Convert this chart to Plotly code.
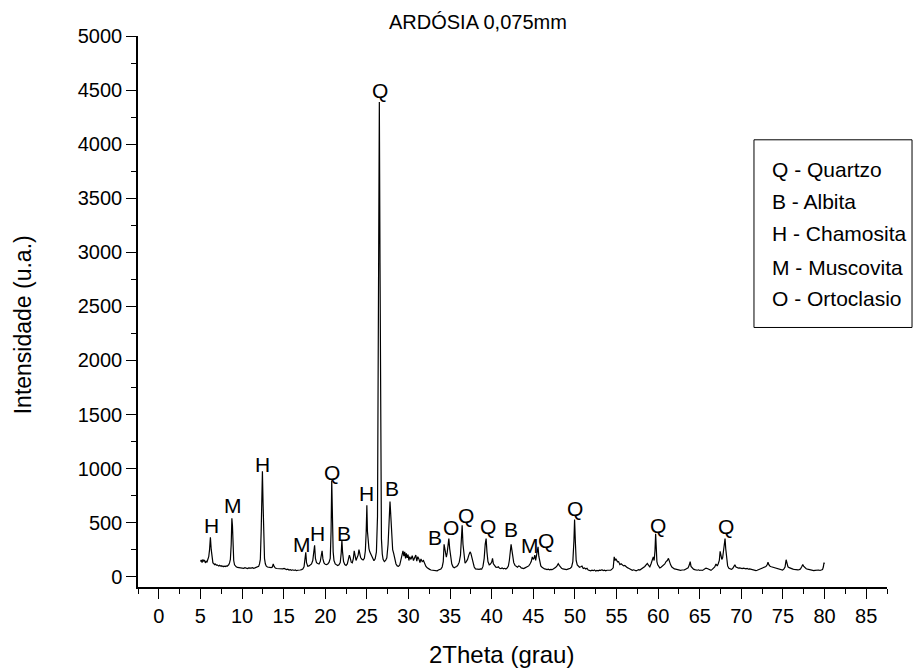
import plotly.graph_objects as go

# ---- data ----
two_theta = [
    5.0, 5.1, 5.2, 5.3, 5.4, 5.5, 5.6, 5.7, 5.8, 5.9, 6.0, 6.1, 6.2, 6.3, 6.4, 6.5, 6.6, 6.7, 6.8, 6.9,
    7.0, 7.1, 7.2, 7.3, 7.4, 7.5, 7.6, 7.7, 7.8, 7.9, 8.0, 8.1, 8.2, 8.3, 8.4, 8.5, 8.6, 8.7, 8.78, 8.85,
    8.92, 9.0, 9.1, 9.2, 9.3, 9.45, 9.6, 9.75, 9.9, 10.05, 10.2, 10.35, 10.5, 10.65, 10.8, 10.95, 11.1, 11.25, 11.4, 11.55,
    11.7, 11.85, 12.0, 12.1, 12.2, 12.3, 12.38, 12.45, 12.52, 12.6, 12.7, 12.8, 12.9, 13.05, 13.2, 13.35, 13.5, 13.65, 13.75, 13.85,
    14.0, 14.15, 14.3, 14.45, 14.6, 14.75, 14.9, 15.05, 15.2, 15.35, 15.5, 15.65, 15.8, 15.95, 16.1, 16.25, 16.4, 16.55, 16.7, 16.85,
    17.0, 17.15, 17.3, 17.45, 17.58, 17.66, 17.75, 17.9, 18.05, 18.2, 18.35, 18.5, 18.62, 18.72, 18.82, 18.95, 19.1, 19.25, 19.4, 19.52,
    19.62, 19.72, 19.85, 20.0, 20.15, 20.3, 20.45, 20.6, 20.7, 20.78, 20.85, 20.95, 21.05, 21.2, 21.35, 21.5, 21.65, 21.8, 21.92, 22.0,
    22.08, 22.2, 22.35, 22.5, 22.65, 22.78, 22.9, 23.0, 23.12, 23.25, 23.38, 23.48, 23.58, 23.7, 23.82, 23.95, 24.05, 24.15, 24.25, 24.4,
    24.55, 24.7, 24.82, 24.92, 25.0, 25.07, 25.15, 25.25, 25.35, 25.45, 25.55, 25.7, 25.85, 26.0, 26.15, 26.28, 26.4, 26.5, 26.58, 26.65,
    26.75, 26.85, 26.95, 27.1, 27.25, 27.4, 27.55, 27.68, 27.78, 27.88, 27.98, 28.1, 28.22, 28.35, 28.5, 28.65, 28.8, 28.95, 29.1, 29.22,
    29.34, 29.45, 29.55, 29.65, 29.75, 29.85, 29.95, 30.05, 30.15, 30.3, 30.45, 30.6, 30.75, 30.88, 31.0, 31.12, 31.25, 31.38, 31.5, 31.65,
    31.8, 31.95, 32.1, 32.25, 32.4, 32.55, 32.7, 32.85, 33.0, 33.15, 33.3, 33.45, 33.6, 33.75, 33.9, 34.05, 34.18, 34.28, 34.36, 34.45,
    34.55, 34.65, 34.75, 34.85, 34.95, 35.05, 35.2, 35.35, 35.5, 35.65, 35.8, 35.95, 36.1, 36.25, 36.35, 36.45, 36.55, 36.68, 36.8, 36.95,
    37.1, 37.25, 37.4, 37.5, 37.62, 37.75, 37.9, 38.05, 38.2, 38.35, 38.5, 38.65, 38.8, 38.95, 39.1, 39.22, 39.33, 39.43, 39.55, 39.7,
    39.85, 40.0, 40.1, 40.2, 40.35, 40.5, 40.65, 40.8, 40.95, 41.1, 41.25, 41.4, 41.55, 41.7, 41.85, 42.0, 42.12, 42.24, 42.33, 42.42,
    42.52, 42.65, 42.8, 42.95, 43.1, 43.25, 43.4, 43.55, 43.7, 43.85, 44.0, 44.15, 44.3, 44.45, 44.6, 44.75, 44.88, 44.98, 45.08, 45.18,
    45.28, 45.38, 45.48, 45.57, 45.66, 45.76, 45.9, 46.05, 46.2, 46.35, 46.5, 46.65, 46.8, 46.95, 47.1, 47.25, 47.4, 47.55, 47.7, 47.85,
    48.0, 48.12, 48.25, 48.4, 48.55, 48.7, 48.85, 49.0, 49.15, 49.3, 49.45, 49.6, 49.75, 49.88, 49.96, 50.05, 50.15, 50.28, 50.42, 50.55,
    50.7, 50.85, 51.0, 51.15, 51.3, 51.45, 51.6, 51.75, 51.9, 52.05, 52.2, 52.35, 52.5, 52.65, 52.8, 52.95, 53.1, 53.25, 53.4, 53.55,
    53.7, 53.85, 54.0, 54.15, 54.3, 54.45, 54.6, 54.72, 54.82, 54.92, 55.02, 55.12, 55.25, 55.4, 55.55, 55.7, 55.85, 56.0, 56.15, 56.3,
    56.45, 56.6, 56.75, 56.9, 57.05, 57.2, 57.35, 57.5, 57.65, 57.8, 57.95, 58.1, 58.25, 58.4, 58.55, 58.7, 58.85, 59.0, 59.15, 59.3,
    59.42, 59.52, 59.62, 59.7, 59.77, 59.85, 59.95, 60.05, 60.2, 60.35, 60.5, 60.65, 60.8, 60.95, 61.1, 61.24, 61.35, 61.5, 61.65, 61.8,
    61.95, 62.1, 62.25, 62.4, 62.55, 62.7, 62.85, 63.0, 63.15, 63.3, 63.45, 63.6, 63.75, 63.85, 63.95, 64.1, 64.25, 64.4, 64.55, 64.7,
    64.85, 65.0, 65.15, 65.3, 65.45, 65.6, 65.75, 65.9, 66.05, 66.2, 66.35, 66.5, 66.65, 66.8, 66.95, 67.1, 67.22, 67.35, 67.45, 67.55,
    67.65, 67.75, 67.85, 67.95, 68.04, 68.12, 68.22, 68.35, 68.5, 68.65, 68.8, 68.95, 69.1, 69.22, 69.35, 69.5, 69.65, 69.8, 69.95, 70.1,
    70.25, 70.4, 70.55, 70.7, 70.85, 71.0, 71.15, 71.3, 71.45, 71.6, 71.75, 71.9, 72.05, 72.2, 72.35, 72.5, 72.65, 72.8, 72.95, 73.1,
    73.2, 73.3, 73.45, 73.6, 73.75, 73.9, 74.05, 74.2, 74.35, 74.5, 74.65, 74.8, 74.95, 75.1, 75.25, 75.38, 75.48, 75.6, 75.75, 75.9,
    76.05, 76.2, 76.35, 76.5, 76.65, 76.8, 76.95, 77.1, 77.25, 77.38, 77.5, 77.65, 77.8, 77.95, 78.1, 78.25, 78.4, 78.55, 78.7, 78.85,
    79.0, 79.15, 79.3, 79.45, 79.6, 79.75, 79.85, 79.93, 80.0,
]
intensity = [
    140, 155, 130, 160, 145, 150, 128, 142, 138, 160, 185, 250, 365, 250, 160, 128, 122, 112, 118, 108,
    110, 104, 100, 106, 98, 102, 95, 100, 92, 98, 94, 100, 96, 104, 110, 128, 160, 300, 540, 470,
    280, 150, 110, 95, 92, 86, 84, 88, 80, 82, 78, 84, 80, 76, 82, 78, 80, 84, 78, 82,
    86, 90, 96, 118, 160, 420, 780, 975, 700, 320, 170, 120, 100, 90, 86, 82, 84, 90, 118, 96,
    80, 76, 74, 78, 70, 74, 72, 76, 68, 66, 70, 62, 66, 60, 64, 58, 62, 56, 60, 58,
    62, 66, 72, 92, 150, 225, 130, 96, 100, 112, 118, 150, 240, 290, 170, 130, 122, 118, 140, 210,
    240, 165, 128, 115, 112, 118, 132, 170, 420, 890, 560, 230, 150, 118, 110, 104, 110, 130, 220, 337,
    230, 140, 112, 104, 118, 150, 200, 175, 135, 128, 170, 240, 190, 150, 175, 200, 250, 215, 178, 162,
    155, 170, 240, 420, 660, 420, 280, 260, 230, 210, 190, 160, 148, 165, 230, 560, 2300, 4390, 2900, 900,
    350, 210, 160, 140, 150, 175, 300, 520, 696, 560, 330, 250, 215, 150, 118, 100, 96, 108, 150, 200,
    240, 190, 230, 170, 215, 175, 205, 150, 185, 160, 195, 150, 170, 200, 145, 185, 165, 130, 165, 140,
    150, 118, 95, 82, 72, 68, 62, 60, 58, 56, 60, 55, 62, 66, 72, 90, 140, 300, 250, 190,
    180, 220, 300, 353, 260, 180, 120, 92, 82, 90, 95, 110, 135, 200, 330, 475, 300, 160, 125, 140,
    160, 200, 230, 215, 170, 125, 90, 72, 70, 74, 68, 72, 70, 95, 170, 300, 353, 230, 140, 110,
    118, 135, 170, 120, 100, 88, 86, 92, 78, 76, 82, 74, 78, 72, 80, 98, 150, 240, 300, 250,
    190, 130, 105, 92, 88, 100, 95, 82, 78, 76, 82, 86, 92, 100, 118, 140, 184, 160, 170, 200,
    150, 185, 240, 276, 190, 140, 100, 88, 78, 72, 70, 66, 70, 64, 68, 66, 72, 78, 88, 100,
    120, 105, 90, 78, 72, 68, 64, 66, 70, 72, 78, 90, 140, 330, 530, 330, 150, 110, 95, 88,
    92, 98, 76, 82, 72, 78, 62, 58, 55, 60, 56, 62, 52, 58, 54, 60, 58, 64, 56, 60,
    54, 60, 58, 62, 60, 70, 82, 184, 150, 165, 150, 138, 140, 112, 120, 108, 100, 104, 92, 84,
    78, 72, 66, 60, 64, 58, 55, 60, 66, 62, 70, 76, 86, 95, 110, 122, 105, 92, 120, 150,
    184, 150, 240, 398, 250, 140, 110, 92, 82, 88, 98, 110, 118, 140, 150, 170, 140, 110, 90, 80,
    72, 70, 66, 64, 60, 58, 62, 60, 64, 70, 74, 82, 110, 140, 95, 78, 70, 66, 62, 60,
    64, 58, 62, 58, 64, 72, 80, 76, 70, 64, 60, 68, 78, 90, 118, 100, 120, 150, 234, 190,
    160, 175, 250, 320, 353, 260, 150, 100, 78, 72, 68, 76, 90, 110, 90, 84, 80, 82, 78, 76,
    80, 74, 72, 76, 70, 72, 68, 64, 62, 58, 56, 60, 64, 68, 74, 80, 86, 90, 94, 110,
    135, 112, 96, 92, 88, 84, 80, 82, 76, 72, 70, 66, 62, 70, 90, 157, 120, 92, 84, 78,
    72, 70, 68, 66, 62, 64, 66, 72, 92, 112, 95, 80, 74, 70, 66, 64, 60, 58, 56, 58,
    60, 58, 62, 58, 60, 66, 90, 130, 120,
]
phase_labels = ["H", "M", "H", "M", "H", "Q", "B", "H", "Q", "B",
                "B", "O", "Q", "Q", "B", "M", "Q", "Q", "Q", "Q"]
label_2theta = [6.28, 8.88, 12.4, 17.2, 19.07, 20.87, 22.27, 24.95, 26.57, 27.98,
                33.18, 35.06, 36.93, 39.53, 42.37, 44.57, 46.57, 50.05, 60.04, 68.15]
label_height = [475, 659, 1042, 300, 399, 965, 399, 766, 4492, 812,
                362, 454, 567, 466, 438, 285, 331, 629, 472, 466]
legend_lines = ["Q - Quartzo", "B - Albita", "H - Chamosita", "M - Muscovita", "O - Ortoclasio"]
x_ticks = list(range(0, 90, 5))
y_ticks = list(range(0, 5001, 500))

FONT = "Liberation Sans, Arial, sans-serif"

fig = go.Figure()
fig.add_trace(go.Scatter(x=two_theta, y=intensity, mode="lines",
                         line=dict(color="black", width=1.2), showlegend=False))

annotations = []
for t, xv, yv in zip(phase_labels, label_2theta, label_height):
    annotations.append(dict(x=xv, y=yv, xref="x", yref="y", text=t, showarrow=False,
                            font=dict(family=FONT, size=21, color="black"),
                            xanchor="center", yanchor="middle"))

# legend box text
leg_y = [0.7585, 0.6993, 0.6408, 0.5803, 0.523]
for txt, yy in zip(legend_lines, leg_y):
    annotations.append(dict(x=0.8438, y=yy, xref="paper", yref="paper", text=txt,
                            showarrow=False, xanchor="left", yanchor="middle",
                            font=dict(family=FONT, size=21, color="black")))

# title
annotations.append(dict(x=0.333, y=1.0, xref="paper", yref="paper", yshift=14,
                        text="ARDÓSIA 0,075mm", showarrow=False,
                        xanchor="left", yanchor="middle",
                        font=dict(family=FONT, size=20, color="black")))
# axis titles
annotations.append(dict(x=-0.1535, y=0.475, xref="paper", yref="paper",
                        text="Intensidade (u.a.)", showarrow=False, textangle=-90,
                        xanchor="center", yanchor="middle",
                        font=dict(family=FONT, size=23, color="black")))
annotations.append(dict(x=0.485, y=-0.123, xref="paper", yref="paper",
                        text="2Theta (grau)", showarrow=False,
                        xanchor="center", yanchor="middle",
                        font=dict(family=FONT, size=24, color="black")))

fig.update_layout(
    width=913, height=671,
    margin=dict(l=138, r=26, t=36, b=84),
    paper_bgcolor="white", plot_bgcolor="white",
    annotations=annotations,
    shapes=[dict(type="rect", xref="paper", yref="paper",
                 x0=0.8224, x1=1.0334, y0=0.471, y1=0.8116,
                 line=dict(color="black", width=1))],
    xaxis=dict(range=[-2.5, 87.5], tickmode="array", tickvals=x_ticks,
               ticks="outside", ticklen=10, tickwidth=1, tickcolor="black",
               showline=True, linecolor="black", linewidth=1.5, showgrid=False,
               zeroline=False, mirror=False,
               tickfont=dict(family=FONT, size=20, color="black"),
               minor=dict(dtick=2.5, tick0=0, ticks="outside", ticklen=5,
                          tickcolor="black", showgrid=False)),
    yaxis=dict(range=[-95, 5000], tickmode="array", tickvals=y_ticks,
               ticks="outside", ticklen=10, tickwidth=1, tickcolor="black",
               showline=True, linecolor="black", linewidth=1.5, showgrid=False,
               zeroline=False, mirror=False,
               tickfont=dict(family=FONT, size=20, color="black"),
               minor=dict(dtick=250, tick0=0, ticks="outside", ticklen=5,
                          tickcolor="black", showgrid=False)),
)

fig.write_html("out.html", config={"displayModeBar": False})

# remove the browser's default page margin so the figure fills the window exactly
with open("out.html", encoding="utf-8") as f:
    html = f.read()
html = html.replace("<head>", "<head><style>html,body{margin:0;padding:0;overflow:hidden;}</style>", 1)
with open("out.html", "w", encoding="utf-8") as f:
    f.write(html)
